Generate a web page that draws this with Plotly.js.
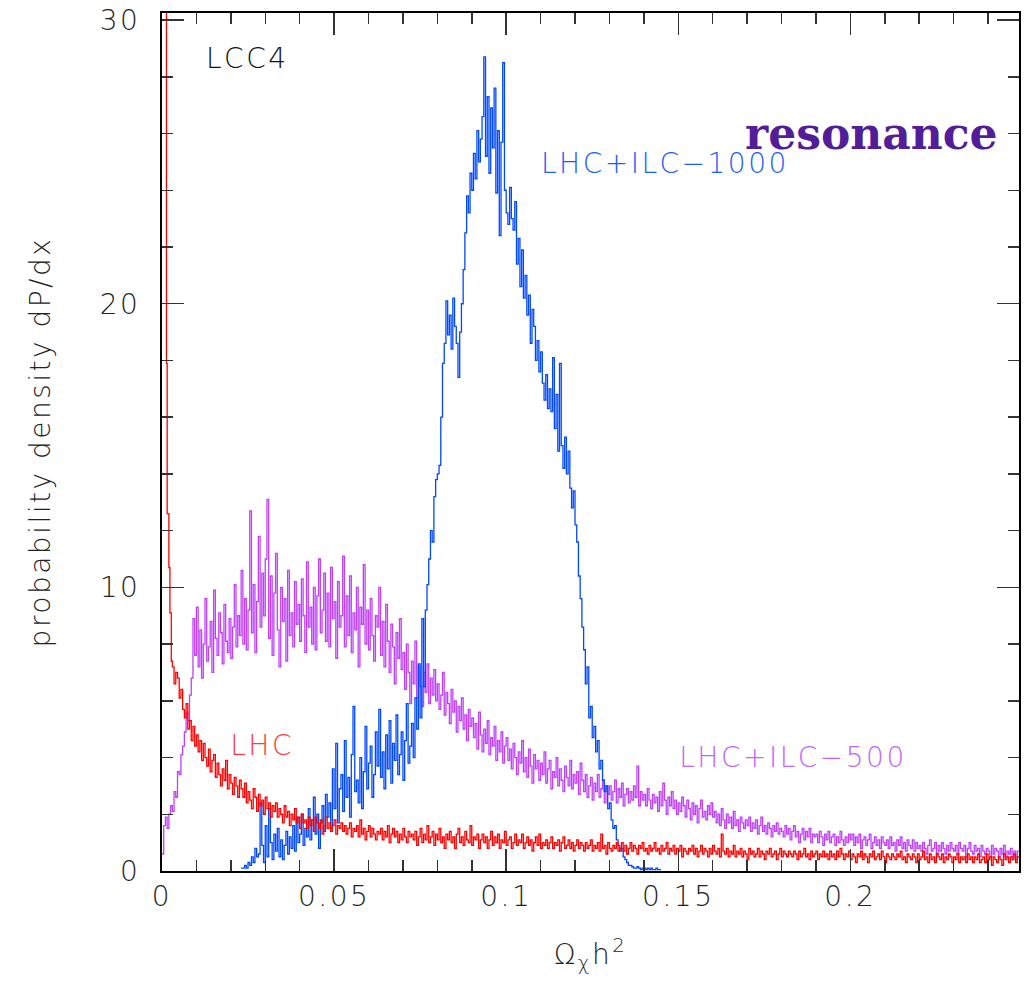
<!DOCTYPE html>
<html>
<head>
<meta charset="utf-8">
<script src="https://cdn.plot.ly/plotly-3.0.1.min.js"></script>
<style>
html,body{margin:0;padding:0;background:#fff;}
#chart{width:1029px;height:982px;}
#chart text{letter-spacing:2.5px;}
#chart g.annotation[data-index="4"] text{letter-spacing:0;}
</style>
</head>
<body>
<div id="chart"></div>
<script>
// ---- data (histograms, bin width 0.0005 unless noted) ----
const binWidth = 0.0005;

// LHC (red): a few wide/fine bins at the very start, then regular bins from 0.003
const lhcHeadEdges = [0, 0.0013, 0.0015, 0.0020, 0.0023, 0.0027, 0.003];
const lhcHeadValues = [40, 17.9, 12.6, 10.7, 9.1, 7.4];
const lhcStart = 0.003;
const lhcValues = [
  7.2, 6.6, 7.0, 6.8, 6.1, 6.4, 5.7, 5.4, 5.9, 5.0, 5.3, 4.6, 5.1, 4.4, 4.8, 4.2, 4.6, 3.9, 4.5, 4.0,
  3.7, 4.3, 3.5, 3.9, 4.1, 3.3, 3.8, 3.4, 3.0, 3.6, 3.2, 3.9, 2.9, 3.4, 3.1, 2.7, 3.3, 3.0, 2.6, 3.2,
  2.9, 2.6, 3.1, 2.4, 2.8, 2.5, 2.2, 2.9, 2.6, 2.1, 2.7, 2.3, 2.5, 2.0, 2.6, 2.2, 2.4, 1.9, 2.3, 2.1,
  2.4, 1.9, 2.2, 2.0, 1.7, 2.3, 1.9, 2.1, 1.6, 2.0, 1.8, 2.2, 1.7, 1.9, 1.5, 2.0, 1.7, 1.8, 1.5, 1.9,
  1.6, 1.8, 1.4, 1.9, 1.7, 1.5, 1.8, 1.3, 1.6, 1.9, 1.5, 1.7, 1.4, 1.6, 1.8, 1.3, 1.6, 1.5, 1.7, 1.4,
  1.6, 1.3, 1.5, 1.7, 1.2, 1.5, 1.4, 1.6, 1.2, 1.8, 1.3, 1.5, 1.1, 1.4, 1.6, 1.2, 1.5, 1.3, 1.1, 1.4,
  1.3, 1.5, 1.1, 1.4, 1.2, 1.6, 1.0, 1.3, 1.5, 1.2, 1.4, 1.0, 1.3, 1.1, 1.5, 1.2, 1.0, 1.4, 1.2, 1.3,
  1.1, 1.4, 0.9, 1.2, 1.5, 1.0, 1.3, 1.1, 1.6, 1.0, 1.2, 1.4, 0.9, 1.3, 1.1, 1.5, 1.0, 1.2, 0.8, 1.3,
  1.1, 1.4, 1.0, 1.2, 0.8, 1.3, 1.5, 1.0, 1.2, 0.9, 1.4, 1.1, 1.0, 1.6, 0.9, 1.2, 1.1, 1.3, 0.8, 1.1,
  1.3, 1.0, 1.2, 0.8, 1.1, 1.4, 0.9, 1.2, 1.0, 1.3, 0.8, 1.1, 1.0, 1.4, 0.9, 1.1, 1.2, 0.8, 1.0, 1.3,
  0.9, 1.1, 1.0, 1.3, 0.8, 1.0, 1.2, 0.9, 1.1, 0.7, 1.0, 1.2, 0.9, 1.3, 0.8, 1.0, 0.9, 1.1, 0.8, 1.0,
  1.2, 0.8, 1.0, 0.9, 1.1, 0.7, 1.0, 1.2, 0.8, 0.9, 1.1, 0.8, 1.0, 0.7, 0.9, 1.1, 0.8, 1.0, 0.9, 0.7,
  1.0, 0.8, 0.9, 1.1, 0.7, 0.9, 0.8, 1.0, 0.7, 1.3, 0.8, 0.9, 0.6, 1.0, 0.8, 0.7, 0.9, 0.8, 1.0, 0.7,
  0.8, 1.0, 0.7, 0.9, 0.6, 0.8, 1.0, 0.7, 0.9, 0.8, 0.6, 0.9, 0.8, 1.0, 0.7, 0.8, 0.6, 0.9, 0.7, 0.8,
  1.0, 0.7, 0.8, 0.6, 0.9, 0.7, 0.8, 1.0, 0.6, 0.8, 0.7, 0.9, 0.6, 0.8, 0.7, 0.9, 0.5, 0.8, 0.7, 0.6,
  0.8, 0.7, 0.9, 0.6, 0.8, 0.5, 0.7, 0.9, 0.6, 0.8, 0.7, 0.5, 0.8, 0.6, 0.9, 0.7, 0.6, 0.8, 0.5, 1.3,
  0.7, 0.6, 0.8, 0.5, 0.7, 0.6, 0.9, 0.5, 0.7, 0.6, 0.8, 0.5, 0.7, 0.6, 0.4, 0.8, 0.6, 0.7, 0.5, 0.6,
  0.8, 0.5, 0.7, 0.6, 0.4, 0.7, 0.6, 0.8, 0.5, 0.6, 0.7, 0.4, 0.6, 0.8, 0.5, 0.7, 0.6, 0.5, 0.7, 0.6,
  0.5, 0.7, 0.6, 0.4, 0.7, 0.5, 0.6, 0.8, 0.5, 0.6, 0.4, 0.7, 0.5, 0.6, 0.7, 0.4, 0.6, 0.5, 0.7, 0.5,
  0.6, 0.4, 0.7, 0.5, 0.6, 0.4, 0.7, 0.5, 0.8, 0.6, 0.4, 0.6, 0.5, 0.7, 0.4, 0.6, 0.5, 0.3, 0.6, 0.5,
  0.7, 0.4, 0.6, 0.5, 0.3, 0.6, 0.5, 0.7, 0.4, 0.5, 0.6, 0.4, 0.7, 0.5, 0.3, 0.6, 0.5, 0.4, 0.6, 0.5,
  0.4, 0.6, 0.5, 0.7, 0.4, 0.5, 0.3, 0.6, 0.5, 0.4, 0.6, 0.5, 0.3, 0.6, 0.4, 0.5, 0.7, 0.4, 0.5, 0.3,
  0.6, 0.4, 0.5, 0.3, 0.6, 0.5, 0.4, 0.6, 0.3, 0.5, 0.4, 0.6, 0.5, 0.3, 0.5, 0.4, 0.6, 0.3, 0.5, 0.4,
  0.5, 0.3, 0.6, 0.4, 0.5, 0.3, 0.5, 0.4, 0.6, 0.3, 0.4, 0.5, 0.3, 0.6, 0.4, 0.5, 0.2, 0.5, 0.4, 0.3,
  0.5, 0.4, 0.2, 0.6, 0.4, 0.5, 0.3, 0.5, 0.4, 0.6, 0.3, 0.5
];

// LHC+ILC-500 (purple), from 0
const ilc500Start = 0.0;
const ilc500Values = [
  0.6, 1.6, 1.9, 1.5, 2.0, 2.3, 2.1, 2.8, 2.6, 3.5, 3.4, 4.1, 4.4, 4.9, 5.6, 5.3, 6.2, 6.8, 8.9, 7.6,
  9.3, 7.2, 8.5, 6.8, 8.0, 9.6, 7.4, 7.9, 8.8, 7.0, 9.9, 8.2, 7.6, 9.1, 8.4, 7.3, 9.4, 8.1, 7.7, 8.9,
  7.5, 8.6, 10.1, 7.9, 9.0, 8.3, 10.6, 8.0, 9.6, 7.8, 9.2, 12.7, 8.4, 10.1, 7.7, 9.5, 11.8, 8.6, 10.5, 9.0,
  11.0, 13.1, 8.2, 10.4, 7.6, 9.8, 11.2, 8.5, 7.2, 10.0, 8.8, 9.6, 7.4, 10.6, 8.3, 9.1, 7.9, 10.2, 8.7, 9.4,
  8.1, 10.3, 9.0, 7.7, 10.9, 8.6, 9.3, 8.0, 10.0, 7.8, 9.7, 11.0, 8.4, 9.2, 10.5, 8.1, 9.8, 7.9, 10.7, 8.9,
  9.5, 7.5, 10.2, 8.6, 9.0, 11.1, 7.9, 9.7, 8.3, 10.4, 7.7, 9.1, 8.5, 10.0, 7.2, 9.3, 8.7, 10.8, 8.0, 9.2,
  7.8, 9.6, 8.3, 7.4, 9.0, 8.6, 10.0, 7.6, 8.8, 7.2, 9.4, 8.1, 7.0, 8.7, 7.9, 6.6, 8.4, 7.5, 8.9, 7.1,
  7.7, 6.4, 8.0, 7.0, 5.9, 7.4, 6.6, 8.1, 6.1, 7.2, 6.5, 5.8, 7.0, 6.3, 7.3, 5.9, 6.8, 6.2, 7.1, 6.0,
  6.6, 5.7, 6.2, 7.0, 5.5, 6.3, 5.9, 5.2, 6.4, 5.6, 6.0, 4.9, 5.8, 5.3, 6.1, 5.0, 5.5, 4.6, 5.7, 5.1,
  5.4, 4.7, 5.2, 4.3, 5.6, 4.8, 4.2, 5.0, 4.5, 5.3, 4.1, 4.7, 4.4, 5.1, 3.9, 4.6, 4.2, 4.9, 3.8, 4.4,
  4.7, 3.9, 4.3, 3.6, 4.5, 4.0, 3.4, 4.2, 3.8, 4.6, 3.5, 4.0, 3.3, 4.3, 3.7, 3.1, 4.1, 3.6, 3.9, 3.2,
  3.8, 3.4, 4.2, 3.1, 3.6, 3.9, 2.9, 3.5, 3.3, 4.0, 3.0, 3.6, 3.2, 2.8, 3.7, 3.3, 3.0, 3.9, 2.9, 3.4,
  3.1, 3.5, 2.7, 3.8, 3.2, 2.8, 3.4, 2.6, 3.0, 3.3, 2.5, 3.1, 2.8, 3.4, 2.6, 2.9, 3.2, 2.4, 3.0, 2.7,
  3.0, 2.5, 2.8, 3.2, 2.4, 2.9, 2.6, 3.1, 2.3, 2.7, 2.9, 2.4, 2.8, 2.5, 3.0, 2.6, 3.7, 2.3, 2.8, 2.5,
  2.7, 2.3, 2.9, 2.5, 2.2, 2.7, 2.4, 2.6, 2.1, 2.8, 2.3, 3.1, 2.5, 2.0, 2.6, 2.3, 2.8, 2.2, 2.5, 2.0,
  2.4, 2.1, 2.6, 2.3, 1.9, 2.5, 2.2, 1.8, 2.4, 2.0, 2.3, 1.7, 2.2, 2.5, 1.9, 2.1, 1.8, 2.3, 2.0, 2.4,
  1.9, 2.1, 1.7, 2.0, 1.6, 2.2, 1.8, 1.5, 2.0, 1.7, 1.9, 1.5, 2.1, 1.6, 1.8, 1.4, 1.9, 1.7, 1.5, 1.8,
  1.6, 1.9, 1.4, 1.7, 1.5, 1.8, 1.3, 1.6, 1.9, 1.4, 1.6, 1.3, 1.7, 1.5, 1.2, 1.6, 1.4, 1.7, 1.3, 1.5,
  1.4, 1.2, 1.6, 1.3, 1.5, 1.1, 1.4, 1.6, 1.2, 1.4, 1.0, 1.3, 1.5, 1.1, 1.4, 1.2, 1.5, 1.0, 1.3, 1.2,
  1.3, 1.0, 1.4, 1.2, 0.9, 1.3, 1.1, 1.4, 1.0, 1.2, 1.3, 0.9, 1.2, 1.0, 1.4, 1.1, 0.9, 1.2, 1.0, 1.3,
  1.1, 1.3, 0.9, 1.2, 1.0, 1.3, 0.8, 1.1, 1.2, 0.9, 1.1, 1.3, 0.8, 1.0, 1.2, 0.9, 1.1, 0.8, 1.2, 1.0,
  0.9, 1.1, 0.8, 1.2, 0.9, 1.0, 0.7, 1.1, 0.9, 1.2, 0.8, 1.0, 0.7, 1.1, 0.9, 0.8, 1.1, 0.7, 1.0, 0.8,
  0.9, 0.7, 1.0, 0.8, 0.6, 0.9, 1.1, 0.7, 0.8, 1.0, 0.6, 0.9, 0.7, 1.0, 0.8, 0.6, 0.9, 0.7, 1.0, 0.8,
  0.7, 0.9, 0.6, 1.0, 0.8, 0.7, 0.9, 0.5, 0.8, 1.0, 0.7, 0.6, 0.9, 0.7, 0.8, 0.5, 0.9, 0.7, 0.6, 0.8,
  0.7, 0.5, 0.9, 0.6, 0.8, 0.7, 0.5, 0.8, 0.6, 0.9, 0.5, 0.7, 0.6, 0.8, 0.5, 0.7, 0.4, 0.7
];

// LHC+ILC-1000 (blue), from 0.023
const ilc1000Start = 0.023;
const ilc1000Values = [
  0.1, 0.1, 0.2, 0.1, 0.3, 0.2, 0.5, 0.3, 0.8, 0.5, 0.6, 2.4, 0.9, 0.3, 1.6, 0.5, 2.2, 1.0, 0.4, 1.3,
  0.7, 1.5, 0.5, 1.1, 0.4, 0.9, 1.4, 0.6, 1.2, 0.8, 1.6, 0.7, 1.9, 1.0, 1.3, 2.0, 0.9, 1.5, 1.2, 2.2,
  1.1, 1.8, 2.6, 1.3, 2.0, 0.8, 1.7, 2.3, 1.4, 2.7, 1.9, 2.4, 1.5, 3.6, 2.2, 4.5, 1.7, 2.9, 3.4, 2.1,
  4.6, 2.6, 3.3, 1.9, 4.1, 5.8, 2.8, 3.2, 2.4, 4.0, 2.2, 3.5, 5.1, 2.9, 3.8, 4.4, 2.6, 3.4, 4.9, 3.7,
  5.7, 3.3, 4.2, 2.9, 4.8, 3.6, 5.3, 3.1, 4.5, 3.9, 5.5, 3.4, 4.1, 4.9, 3.2, 4.6, 5.9, 3.8, 4.4, 5.2,
  4.0, 6.1, 5.0, 7.3, 5.4, 8.9, 6.5, 9.2, 10.1, 11.0, 12.0, 11.6, 13.2, 13.8, 14.0, 14.3, 16.0, 17.9, 18.6, 20.1,
  18.9, 19.6, 18.4, 20.2, 19.2, 18.6, 17.4, 19.0, 20.0, 21.2, 22.5, 23.8, 23.2, 24.6, 24.0, 25.3, 24.4, 26.1, 25.0, 25.8,
  26.6, 28.7, 25.2, 27.3, 24.6, 26.9, 25.5, 27.6, 23.9, 26.1, 22.4, 25.7, 28.5, 24.0, 23.2, 22.8, 24.1, 23.0, 22.6, 23.6,
  21.4, 22.3, 20.6, 21.9, 20.2, 21.0, 19.6, 20.3, 18.6, 19.8, 19.2, 18.0, 18.7, 17.6, 18.3, 17.2, 16.6, 17.5, 16.3, 17.0,
  16.2, 18.1, 15.6, 16.8, 14.8, 17.9, 15.0, 14.2, 15.3, 14.0, 14.8, 13.5, 12.8, 13.4, 12.2, 11.6, 10.4, 9.6, 8.6, 7.8,
  6.6, 7.2, 5.4, 5.8, 4.7, 5.1, 4.2, 4.6, 3.6, 3.9, 3.2, 2.8, 3.0, 2.2, 2.4, 1.8, 1.5, 1.6, 1.1, 0.9,
  0.7, 0.8, 0.5, 0.4, 0.3, 0.2, 0.2, 0.15, 0.1, 0.1, 0.15, 0.1, 0.05, 0.1, 0.1, 0.05, 0.1, 0.05, 0.1, 0.05,
  0.05, 0.1, 0.05, 0.05
];

// ---- build step traces (bin edges -> 'hv' steps) ----
function stepXY(start, values) {
  const xs = [], ys = [];
  for (let i = 0; i < values.length; i++) {
    xs.push(+(start + i * binWidth).toFixed(6));
    ys.push(values[i]);
  }
  xs.push(+(start + values.length * binWidth).toFixed(6));
  ys.push(values[values.length - 1]);
  return {x: xs, y: ys};
}

const lhcBody = stepXY(lhcStart, lhcValues);
const lhcX = lhcHeadEdges.slice(0, -1).concat(lhcBody.x);
const lhcY = lhcHeadValues.concat(lhcBody.y);
const ilc500 = stepXY(ilc500Start, ilc500Values);
const ilc1000 = stepXY(ilc1000Start, ilc1000Values);

const lw = 1.3;
const traces = [
  {x: ilc500.x, y: ilc500.y, type: 'scatter', mode: 'lines', line: {shape: 'hv', color: '#c040fa', width: lw}, name: 'LHC+ILC-500'},
  {x: ilc1000.x, y: ilc1000.y, type: 'scatter', mode: 'lines', line: {shape: 'hv', color: '#0048ff', width: lw}, name: 'LHC+ILC-1000'},
  {x: lhcX, y: lhcY, type: 'scatter', mode: 'lines', line: {shape: 'hv', color: '#ff0000', width: lw}, name: 'LHC'}
];

const sansFont = 'DejaVu Sans, Liberation Sans, sans-serif';
const tickFont = {family: sansFont, size: 28, color: '#222', weight: 200};

const layout = {
  width: 1029, height: 982,
  margin: {l: 162, r: 10, t: 13, b: 111},
  paper_bgcolor: '#fff', plot_bgcolor: '#fff',
  showlegend: false,
  xaxis: {
    range: [0, 0.249], showgrid: false, zeroline: false,
    showline: true, linecolor: '#000', linewidth: 2, mirror: 'allticks',
    ticks: 'inside', ticklen: 22, tickwidth: 1.5, tickcolor: '#333',
    tick0: 0, dtick: 0.05, tickfont: tickFont, ticklabelstandoff: -1,
    minor: {dtick: 0.01, ticks: 'inside', ticklen: 11, tickwidth: 1.5, tickcolor: '#333', showgrid: false},
    title: {text: 'Ω<sub>χ</sub>h<sup>2</sup>', font: {family: sansFont, size: 28, color: '#222', weight: 200}, standoff: 33}
  },
  yaxis: {
    range: [0, 30.25], showgrid: false, zeroline: false,
    showline: true, linecolor: '#000', linewidth: 2, mirror: 'allticks',
    ticks: 'inside', ticklen: 22, tickwidth: 1.5, tickcolor: '#333',
    tick0: 0, dtick: 10, tickfont: tickFont, ticklabelstandoff: 14,
    minor: {dtick: 2, ticks: 'inside', ticklen: 11, tickwidth: 1.5, tickcolor: '#333', showgrid: false},
    title: {text: 'probability density dP/dx', font: {family: sansFont, size: 28, color: '#222', weight: 200}, standoff: 46}
  },
  annotations: [
    {text: 'LCC4', x: 0.0137, y: 28.66, xref: 'x', yref: 'y', xanchor: 'left', yanchor: 'middle', showarrow: false,
     font: {family: sansFont, size: 28, color: '#111', weight: 200}},
    {text: 'LHC+ILC−1000', x: 0.1140, y: 24.96, xref: 'x', yref: 'y', xanchor: 'left', yanchor: 'middle', showarrow: false,
     font: {family: sansFont, size: 28, color: '#1a5cff', weight: 200}},
    {text: 'LHC', x: 0.0203, y: 4.44, xref: 'x', yref: 'y', xanchor: 'left', yanchor: 'middle', showarrow: false,
     font: {family: sansFont, size: 28, color: '#ff3a3a', weight: 200}},
    {text: 'LHC+ILC−500', x: 0.1538, y: 4.01, xref: 'x', yref: 'y', xanchor: 'left', yanchor: 'middle', showarrow: false,
     font: {family: sansFont, size: 28, color: '#c563ff', weight: 200}},
    {text: 'resonance', x: 0.2436, y: 26.0, xref: 'x', yref: 'y', xanchor: 'right', yanchor: 'middle', showarrow: false,
     font: {family: 'DejaVu Serif, Liberation Serif, serif', size: 44, color: '#531d98', weight: 700}}
  ]
};

Plotly.newPlot('chart', traces, layout, {displayModeBar: false, staticPlot: true});
</script>
</body>
</html>
